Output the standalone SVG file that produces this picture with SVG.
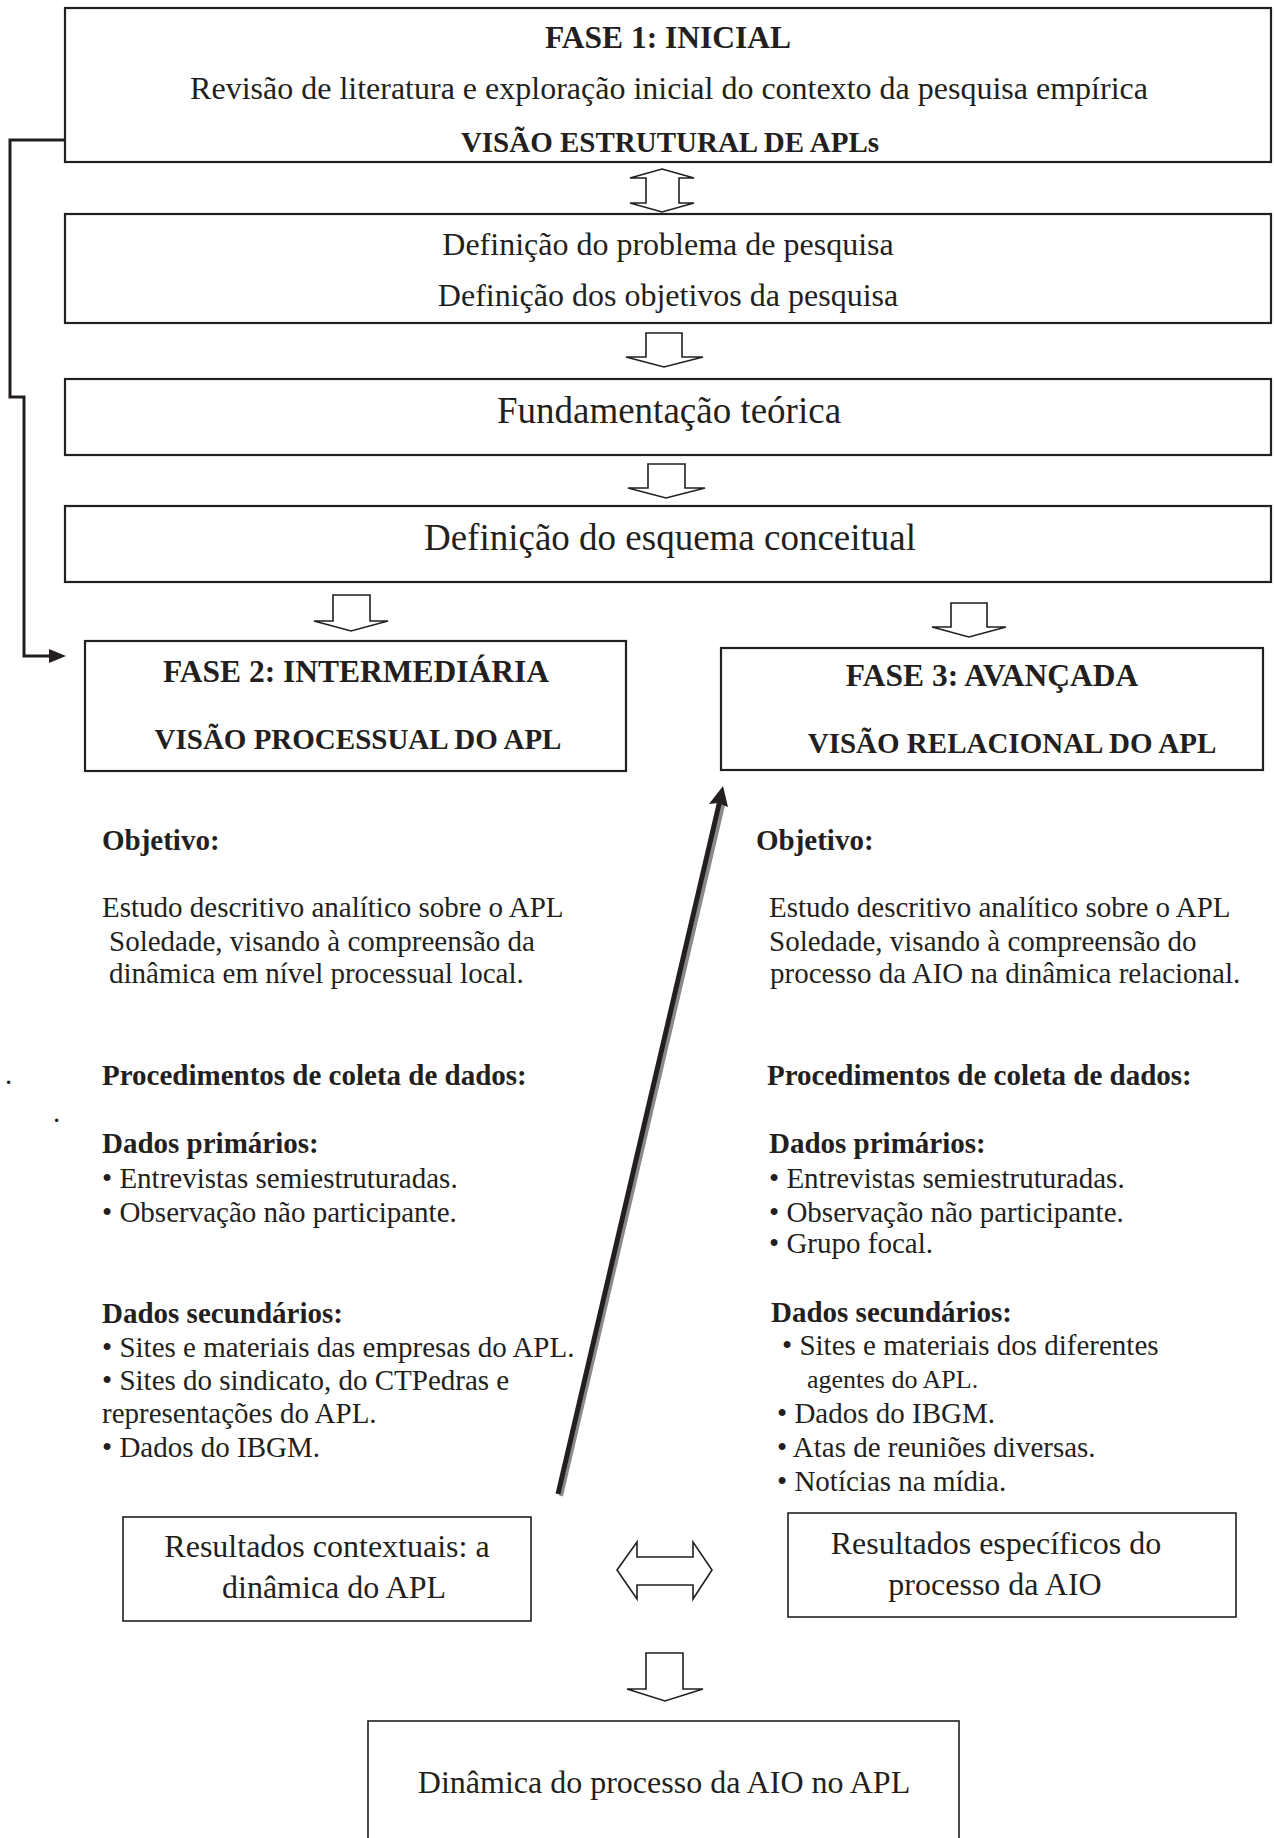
<svg xmlns="http://www.w3.org/2000/svg" width="1274" height="1838" viewBox="0 0 1274 1838">
<defs>
<style>
text{font-family:"Liberation Serif","Times New Roman",serif;fill:#231f20}
.b{font-weight:bold}
.m{text-anchor:middle}
.box{fill:#fff;stroke:#231f20;stroke-width:2.2}
.rbox{fill:#fff;stroke:#231f20;stroke-width:1.6}
.harrow{fill:#fff;stroke:#231f20;stroke-width:1.6;stroke-linejoin:miter}
.t32{font-size:32px}
.t37{font-size:37px}
.h1{font-size:31.5px}
.h2{font-size:29px}
.body{font-size:29px}
</style>
<marker id="tri" viewBox="0 0 10 10" refX="9" refY="5" markerWidth="5" markerHeight="5" orient="auto" markerUnits="strokeWidth">
<path d="M0,0 L10,5 L0,10 Z" fill="#231f20"/>
</marker>
</defs>
<rect width="1274" height="1838" fill="#fff"/>

<g id="connectors">
<polyline points="65,140 10,140 10,397 24,397 24,656 52,656" fill="none" stroke="#231f20" stroke-width="3"/>
<polygon points="49,649 66,656 49,663" fill="#231f20"/>
<polygon class="harrow" points="662,169 694,178 679,178 679,203 694,203 662,212 630,203 646,203 646,178 630,178"/>
<polygon class="harrow" points="646,333 682,333 682,357 703,357 664,367 626,357 646,357"/>
<polygon class="harrow" points="648,464 685,464 685,488 705,488 666,498 628,488 648,488"/>
<polygon class="harrow" points="333,595 370,595 370,621 388,621 351,631 314,621 333,621"/>
<polygon class="harrow" points="951,603 987,603 987,627 1006,627 969,637 932,627 951,627"/>
<line x1="561" y1="1496" x2="724" y2="801" stroke="#8a8a8a" stroke-width="4"/>
<line x1="558" y1="1494" x2="720" y2="800" stroke="#231f20" stroke-width="5"/>
<polygon points="723,786 728,807 718,803 709,804" fill="#231f20"/>
<polygon class="harrow" points="617,1570 637,1542 637,1557 693,1557 693,1542 712,1570 693,1599 693,1585 637,1585 637,1599"/>
<polygon class="harrow" points="646,1653 683,1653 683,1689 703,1689 665,1701 627,1689 646,1689"/>
</g>

<g id="fase1">
<rect class="box" x="65" y="8" width="1206" height="154"/>
<text class="b m h1" x="668" y="48">FASE 1: INICIAL</text>
<text class="m t32" x="669" y="99">Revisão de literatura e exploração inicial do contexto da pesquisa empírica</text>
<text class="b m h2" x="670" y="152">VISÃO ESTRUTURAL DE APLs</text>
</g>

<g id="definicao-problema">
<rect class="box" x="65" y="214" width="1206" height="109"/>
<text class="m t32" x="668" y="255">Definição do problema de pesquisa</text>
<text class="m t32" x="668" y="306">Definição dos objetivos da pesquisa</text>
</g>

<g id="fundamentacao">
<rect class="box" x="65" y="379" width="1206" height="76"/>
<text class="m t37" x="669" y="423">Fundamentação teórica</text>
</g>

<g id="esquema">
<rect class="box" x="65" y="506" width="1206" height="76"/>
<text class="m t37" x="670" y="550">Definição do esquema conceitual</text>
</g>

<g id="fase2">
<rect class="box" x="85" y="641" width="541" height="130"/>
<text class="b m h1" x="356" y="682">FASE 2: INTERMEDIÁRIA</text>
<text class="b m h2" x="358" y="749">VISÃO PROCESSUAL DO APL</text>
</g>

<g id="fase3">
<rect class="box" x="721" y="648" width="542" height="122"/>
<text class="b m h1" x="992" y="686">FASE 3: AVANÇADA</text>
<text class="b m h2" x="1012" y="753">VISÃO RELACIONAL DO APL</text>
</g>

<g id="col-left" class="body">
<text class="b" x="102" y="850">Objetivo:</text>
<text x="102" y="917">Estudo descritivo analítico sobre o APL</text>
<text x="109" y="951">Soledade, visando à compreensão da</text>
<text x="109" y="983">dinâmica em nível processual local.</text>
<text x="5" y="1084">.</text>
<text x="53" y="1122">.</text>
<text class="b" x="102" y="1085">Procedimentos de coleta de dados:</text>
<text class="b" x="102" y="1153">Dados primários:</text>
<text x="102" y="1188">• Entrevistas semiestruturadas.</text>
<text x="102" y="1222">• Observação não participante.</text>
<text class="b" x="102" y="1323">Dados secundários:</text>
<text x="102" y="1357">• Sites e materiais das empresas do APL.</text>
<text x="102" y="1390">• Sites do sindicato, do  CTPedras e</text>
<text x="102" y="1423">representações do APL.</text>
<text x="102" y="1457">• Dados do IBGM.</text>
</g>

<g id="col-right" class="body">
<text class="b" x="756" y="850">Objetivo:</text>
<text x="769" y="917">Estudo descritivo analítico sobre o APL</text>
<text x="769" y="951">Soledade, visando à compreensão do</text>
<text x="770" y="983">processo da AIO na dinâmica relacional.</text>
<text class="b" x="767" y="1085">Procedimentos de coleta de dados:</text>
<text class="b" x="769" y="1153">Dados primários:</text>
<text x="769" y="1188">• Entrevistas semiestruturadas.</text>
<text x="769" y="1222">• Observação não participante.</text>
<text x="769" y="1253">• Grupo focal.</text>
<text class="b" x="771" y="1322">Dados secundários:</text>
<text x="782" y="1355">• Sites e materiais dos diferentes</text>
<text x="807" y="1388" style="font-size:26px">agentes do APL.</text>
<text x="777" y="1423">• Dados do IBGM.</text>
<text x="777" y="1457">• Atas de reuniões diversas.</text>
<text x="777" y="1491">• Notícias na mídia.</text>
</g>

<g id="resultados-contextuais">
<rect class="rbox" x="123" y="1517" width="408" height="104"/>
<text class="m t32" x="327" y="1557">Resultados contextuais: a</text>
<text class="m t32" x="334" y="1598">dinâmica do APL</text>
</g>

<g id="resultados-especificos">
<rect class="rbox" x="788" y="1513" width="448" height="104"/>
<text class="m t32" x="996" y="1554">Resultados específicos do</text>
<text class="m t32" x="995" y="1595">processo da AIO</text>
</g>

<g id="dinamica">
<rect class="rbox" x="368" y="1721" width="591" height="130"/>
<text class="m t32" x="664" y="1793">Dinâmica do processo da AIO no APL</text>
</g>
</svg>
